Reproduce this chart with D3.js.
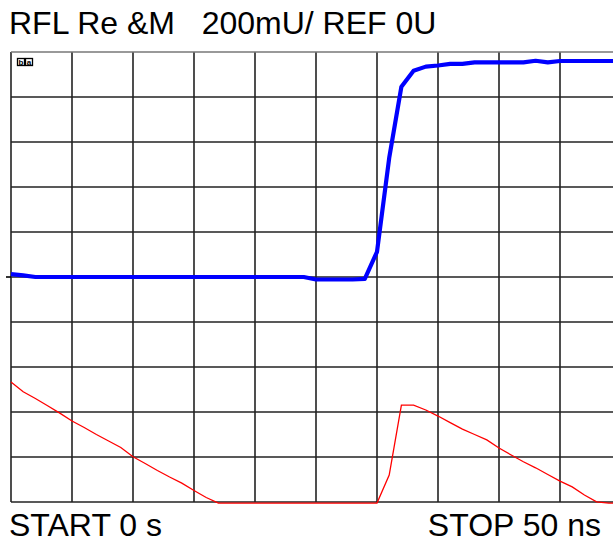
<!DOCTYPE html>
<html><head><meta charset="utf-8">
<script src="https://cdn.jsdelivr.net/npm/d3@7"></script>
<style>html,body{margin:0;padding:0;background:#fff;overflow:hidden}</style>
</head><body><svg id="c" width="613" height="539"></svg>
<script>
// Time axis: 0..50 ns, one sample per ns
const timeNs = d3.range(0, 51);
// Trace 1 (blue): RFL Re, units U
const blueValues = [0.013,0.007,0,0,0,0,0,0,0,0,0,0,0,0,0,0,0,0,0,0,0,0,0,0,0,
  -0.011,-0.011,-0.011,-0.011,-0.008,0.112,0.529,0.846,0.917,0.935,0.940,0.947,0.947,0.954,0.954,
  0.954,0.954,0.954,0.961,0.954,0.960,0.960,0.960,0.960,0.960,0.960];
// Trace 2 (red)
const redValues = [-0.467,-0.510,-0.540,-0.572,-0.605,-0.640,-0.669,-0.700,-0.729,-0.758,
  -0.799,-0.829,-0.860,-0.889,-0.916,-0.949,-0.980,-1.005,-1.005,-1.005,-1.005,-1.005,-1.005,-1.005,-1.005,
  -1.005,-1.005,-1.005,-1.005,-1.005,-1.005,-0.880,-0.569,-0.569,-0.591,-0.618,-0.647,-0.676,-0.700,-0.724,
  -0.760,-0.791,-0.821,-0.848,-0.878,-0.907,-0.933,-0.969,-0.999,-1.005,-1.005];
const xTicks = d3.range(0, 51, 5);
const yTicks = d3.range(-1, 1.0001, 0.2);
const titleText = "RFL Re &M\u00a0\u00a0\u00a0200mU/ REF 0U";
const startText = "START 0 s";
const stopText = "STOP 50 ns";

const svg = d3.select("#c");
const x = d3.scaleLinear().domain([0, 50]).range([11, 621]);
const y = d3.scaleLinear().domain([-1, 1]).range([502, 52]);
const font = "'Liberation Sans', Arial, sans-serif";

// grid
svg.append("g").selectAll("line").data(xTicks).join("line")
  .attr("x1", d => x(d)).attr("x2", d => x(d)).attr("y1", y(1)).attr("y2", y(-1))
  .attr("stroke", "#222").attr("stroke-width", 1.6);
svg.append("g").selectAll("line").data(yTicks).join("line")
  .attr("x1", x(0)).attr("x2", x(50)).attr("y1", d => y(d)).attr("y2", d => y(d))
  .attr("stroke", (d, i) => i === yTicks.length - 1 ? "#777" : "#222").attr("stroke-width", 1.6);
// reference marker
svg.append("line").attr("x1", 6).attr("x2", x(0)).attr("y1", y(0)).attr("y2", y(0))
  .attr("stroke", "#000").attr("stroke-width", 1.6);

// small icon
const ic = svg.append("g").attr("transform", "translate(17,58)");
ic.append("rect").attr("x", 0.5).attr("y", 0.5).attr("width", 7).attr("height", 7).attr("fill", "none").attr("stroke", "#000").attr("stroke-width", 1.3);
ic.append("rect").attr("x", 8.5).attr("y", 0.5).attr("width", 7).attr("height", 7).attr("fill", "none").attr("stroke", "#000").attr("stroke-width", 1.3);
ic.append("text").attr("x", 4).attr("y", 7).attr("text-anchor", "middle").attr("font-family", font).attr("font-size", 8).attr("font-weight", "bold").text("b");
ic.append("text").attr("x", 12).attr("y", 7).attr("text-anchor", "middle").attr("font-family", font).attr("font-size", 8).attr("font-weight", "bold").text("a");

const line = d3.line().x((d, i) => x(timeNs[i])).y(d => y(d));
svg.append("path").datum(redValues).attr("d", line).attr("fill", "none").attr("stroke", "#ff0000").attr("stroke-width", 1.3);
svg.append("path").datum(blueValues).attr("d", line).attr("fill", "none").attr("stroke", "#0000ff").attr("stroke-width", 4.2).attr("stroke-linejoin", "round");

svg.append("text").attr("x", 9).attr("y", 34).attr("font-family", font).attr("font-size", 32).attr("fill", "#000").text(titleText);
svg.append("text").attr("x", 9).attr("y", 536).attr("font-family", font).attr("font-size", 32).attr("fill", "#000").text(startText);
svg.append("text").attr("x", 601).attr("y", 536).attr("text-anchor", "end").attr("font-family", font).attr("font-size", 32).attr("fill", "#000").text(stopText);
</script></body></html>
